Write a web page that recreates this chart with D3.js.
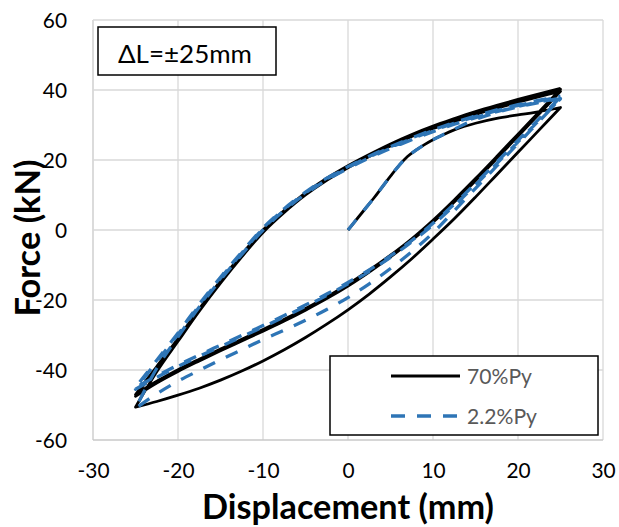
<!DOCTYPE html>
<html><head><meta charset="utf-8">
<script src="https://cdn.jsdelivr.net/npm/d3@7"></script>
<style>body{margin:0;background:#fff}svg{display:block}text{font-family:Lato,"Open Sans",sans-serif}</style>
</head><body><svg id="c" width="619" height="527"></svg>
<script>
const xTicks = [-30,-20,-10,0,10,20,30];
const yTicks = [-60,-40,-20,0,20,40,60];
const seriesNames = ["70%Py","2.2%Py"];
const annotation = "ΔL=±25mm";
const xTitle = "Displacement (mm)";
const yTitle = "Force (kN)";

// displacement stations (mm)
const dInit = [0,1,2,3,4,5,6,7,8,9,10,11,12.5,15,17.5,20,22,25];
const dDown = [25,22.5,20,17.5,15,12.5,10,7.5,5,2.5,0,-2.5,-5,-7.5,-10,-12.5,-15,-17.5,-20,-22.5,-25];
const dUp = [-25,-22.5,-20,-17.5,-15,-12.5,-10,-7.5,-5,-2.5,0,2.5,5,7.5,10,12.5,15,17.5,20,22.5,25];

// 70%Py force (kN)
const blackInit    = [0,3,6,9,12.2,15.4,18.4,21,22.8,24.4,25.8,27,28.6,30.5,31.9,32.9,33.6,35];
const blackUnload1 = [35,28.6,22.2,15.8,9.4,3.2,-2.6,-8.2,-13.4,-18.3,-22.8,-26.9,-30.7,-34.2,-37.4,-40.3,-42.9,-45.2,-47.2,-49.0,-50.6];
const blackReload1 = [-50.6,-40.5,-31.8,-23.2,-15.2,-7.7,-0.7,5,10,14.2,17.8,21,24,26.7,29,31,33,34.8,36.5,38.1,39.6];
const blackUnload2 = [39.6,33.2,26.8,20.4,14.1,8.0,2.2,-3.0,-7.7,-12,-16,-19.6,-22.9,-26,-28.9,-31.7,-34.5,-37.4,-40.4,-43.7,-47.5];
const blackReload2 = [-47.5,-39.3,-31.2,-22.7,-14.7,-7.2,-0.2,5.4,10.4,14.6,18.2,21.4,24.4,27.1,29.5,31.5,33.5,35.3,37,38.6,40.2];
const blackUnload3 = [40.2,33.8,27.4,21,14.7,8.6,2.8,-2.5,-7.2,-11.5,-15.5,-19.1,-22.4,-25.5,-28.4,-31.2,-34.0,-36.9,-39.9,-43.2,-47];
const blackReload3 = [-47,-39,-31,-22.5,-14.5,-7,0,5.6,10.6,14.8,18.4,21.6,24.6,27.3,29.7,31.8,33.8,35.6,37.3,38.9,40.5];

// 2.2%Py force (kN)
const blueInit    = [0,3,6,9,12.2,15.4,18.4,21,22.8,24.4,25.8,27,28.8,31.6,33.6,35.2,36.2,37.5];
const blueUnload1 = [37.5,31.1,24.7,18.3,11.9,5.5,-0.8,-6.2,-11,-15.4,-19.3,-22.7,-25.8,-28.6,-31.3,-34.2,-37.1,-40.1,-43.2,-46.8,-51];
const blueReload1 = [-51,-39.5,-30.5,-22,-14.2,-7,0,5.6,10.3,14.3,17.6,20.6,23.3,25.8,28.1,30.2,32.1,33.8,35.3,36.6,37.6];
const blueUnload2 = [37.6,31.4,25.2,19.0,12.9,7.0,1.5,-3.4,-7.8,-11.8,-15.4,-18.7,-21.8,-24.8,-27.7,-30.5,-33.3,-36.1,-39,-42.1,-45.5];
const blueReload2 = [-45.5,-37.6,-29.8,-21.6,-13.8,-6.6,0.4,5.9,10.6,14.6,17.9,20.9,23.6,26.1,28.4,30.5,32.4,34.1,35.6,36.9,38];
const blueUnload3 = [38,31.8,25.6,19.4,13.3,7.4,1.9,-3.0,-7.4,-11.4,-15.0,-18.3,-21.4,-24.4,-27.3,-30.1,-32.9,-35.7,-38.6,-41.7,-45];
const blueReload3 = [-45,-37.2,-29.4,-21.2,-13.5,-6.3,0.6,6.1,10.8,14.8,18.1,21.1,23.8,26.3,28.6,30.7,32.6,34.3,35.8,37.1,38.2];

const colors = ["#000000","#2E75B6"];

const svg = d3.select("#c");
const x = d3.scaleLinear().domain([-30,30]).range([93,603]);
const y = d3.scaleLinear().domain([-60,60]).range([440,20]);

// grid
svg.append("g").selectAll("line").data(xTicks).join("line")
  .attr("x1",d=>x(d)).attr("x2",d=>x(d)).attr("y1",y(60)).attr("y2",y(-60))
  .attr("stroke",d=>d===-30?"#c8c8c8":"#d9d9d9").attr("stroke-width",1.3);
svg.append("g").selectAll("line").data(yTicks).join("line")
  .attr("y1",d=>y(d)).attr("y2",d=>y(d)).attr("x1",x(-30)).attr("x2",x(30))
  .attr("stroke",d=>d===-60?"#c8c8c8":"#d9d9d9").attr("stroke-width",1.3);

function fitSize(txt, weight, target){
  const t = svg.append("text").attr("font-size",100).attr("font-weight",weight).text(txt);
  const w = t.node().getComputedTextLength(); t.remove();
  return 100*target/w;
}
const tickSize = fitSize("-60","normal",32);

// axes via d3
const xAxis = d3.axisBottom(x).tickValues(xTicks).tickFormat(d=>String(d)).tickSize(0).tickPadding(0);
const gx = svg.append("g").attr("transform",`translate(0,${y(-60)})`).call(xAxis);
gx.select(".domain").remove();
gx.selectAll("text").attr("font-family","Lato").attr("font-size",tickSize).attr("fill","#000")
  .attr("dy",null).attr("y",38);
const yAxis = d3.axisLeft(y).tickValues(yTicks).tickFormat(d=>String(d)).tickSize(0).tickPadding(0);
const gy = svg.append("g").attr("transform",`translate(67,0)`).call(yAxis);
gy.select(".domain").remove();
gy.selectAll("text").attr("font-family","Lato").attr("font-size",tickSize).attr("fill","#000")
  .attr("dy","0.35em").attr("x",0);

// curves
const line = d3.line().x(d=>x(d[0])).y(d=>y(d[1])).curve(d3.curveCatmullRom.alpha(0.5));
function seg(xs, ys){ return xs.map((v,i)=>[v, ys[i]]); }
function pathOf(segs){
  return segs.map((s,i)=>{ const d=line(s); return i? d.replace(/^M/,"L") : d; }).join("");
}
const blackSegs = [seg(dInit,blackInit),seg(dDown,blackUnload1),seg(dUp,blackReload1),seg(dDown,blackUnload2),seg(dUp,blackReload2),seg(dDown,blackUnload3),seg(dUp,blackReload3)];
const blueSegs = [seg(dInit,blueInit),seg(dDown,blueUnload1),seg(dUp,blueReload1),seg(dDown,blueUnload2),seg(dUp,blueReload2),seg(dDown,blueUnload3),seg(dUp,blueReload3)];

svg.append("path").attr("d",pathOf(blackSegs)).attr("fill","none").attr("stroke",colors[0])
  .attr("stroke-width",2.8).attr("stroke-linejoin","round");
svg.append("path").attr("d",pathOf(blueSegs)).attr("fill","none").attr("stroke",colors[1])
  .attr("stroke-width",3.3).attr("stroke-dasharray","13,12").attr("stroke-linejoin","round");

// annotation box
svg.append("rect").attr("x",98).attr("y",27).attr("width",178).attr("height",48)
  .attr("fill","#fff").attr("stroke","#000").attr("stroke-width",1.5);
svg.append("text").attr("x",118).attr("y",63).attr("font-size",fitSize(annotation,"normal",134))
  .attr("fill","#000").text(annotation);

// legend
svg.append("rect").attr("x",330).attr("y",356).attr("width",268).attr("height",79)
  .attr("fill","#fff").attr("stroke","#000").attr("stroke-width",1.5);
const legSize = fitSize(seriesNames[0],"normal",65);
const lg = svg.append("g").selectAll("g").data(seriesNames).join("g")
  .attr("transform",(d,i)=>`translate(0,${376+i*40})`);
lg.append("line").attr("x1",391).attr("x2",460).attr("y1",0).attr("y2",0)
  .attr("stroke",(d,i)=>colors[i]).attr("stroke-width",(d,i)=>i?3.3:3.2)
  .attr("stroke-dasharray",(d,i)=>i?"14,12":null);
lg.append("text").attr("x",467).attr("y",8).attr("font-size",legSize).attr("fill","#595959").text(d=>d);

// titles
svg.append("text").attr("x",348).attr("y",519).attr("text-anchor","middle").attr("font-weight","bold")
  .attr("font-size",fitSize(xTitle,"bold",292)).attr("fill","#000").text(xTitle);
svg.append("text").attr("transform","translate(40,238) rotate(-90)").attr("text-anchor","middle")
  .attr("font-weight","bold").attr("font-size",fitSize(yTitle,"bold",157)).attr("fill","#000").text(yTitle);
</script></body></html>
